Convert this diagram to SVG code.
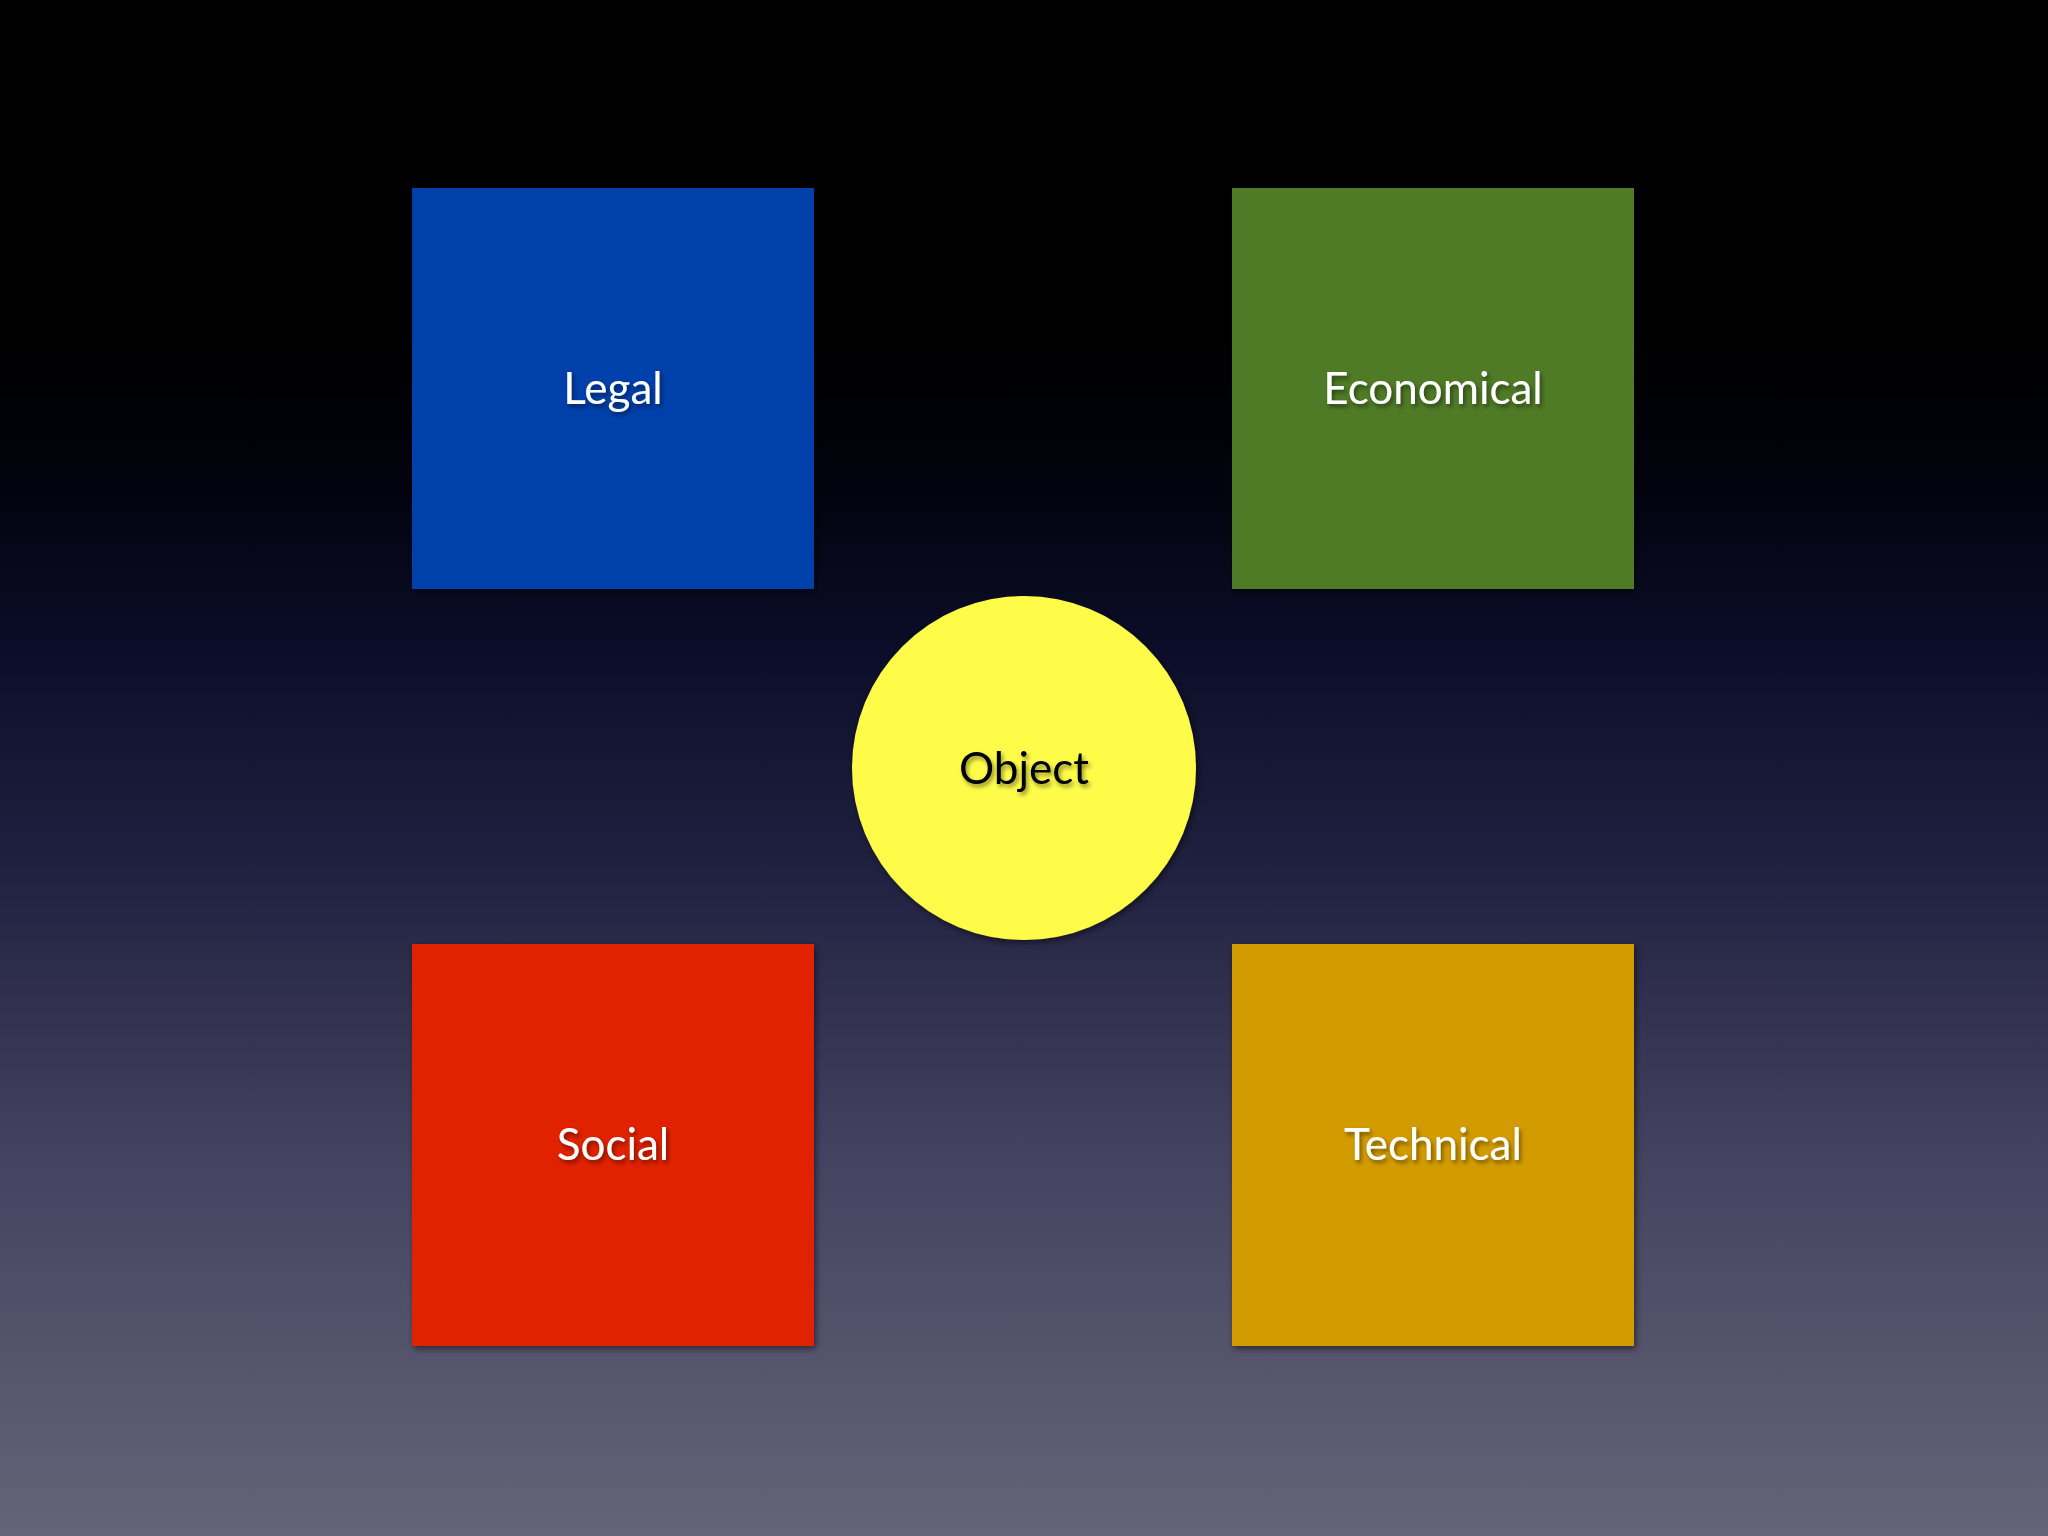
<svg xmlns="http://www.w3.org/2000/svg" width="2048" height="1536" viewBox="0 0 2048 1536">
<defs>
<linearGradient id="bg" x1="0" y1="0" x2="0" y2="1">
<stop offset="0" stop-color="#000000"/>
<stop offset="0.22" stop-color="#000000"/>
<stop offset="0.32" stop-color="#02030e"/>
<stop offset="0.42" stop-color="#0b0d28"/>
<stop offset="0.56" stop-color="#1f203f"/>
<stop offset="0.75" stop-color="#434360"/>
<stop offset="1" stop-color="#656377"/>
</linearGradient>
<filter id="boxShadow" x="-10%" y="-10%" width="120%" height="120%">
<feDropShadow dx="2" dy="3" stdDeviation="3" flood-color="#000" flood-opacity="0.5"/>
</filter>
<filter id="textShadow" x="-20%" y="-30%" width="140%" height="160%">
<feDropShadow dx="2" dy="3" stdDeviation="2" flood-color="#000" flood-opacity="0.45"/>
</filter>
</defs>
<style>
.lbl{font-family:Lato,"Open Sans","Liberation Sans",sans-serif;font-size:44px;text-anchor:middle;filter:url(#textShadow)}
.w{fill:#ffffff}
.k{fill:#000000}
</style>
<rect width="2048" height="1536" fill="url(#bg)"/>
<g id="connectors"/>
<g id="legal">
<rect x="412" y="188" width="402" height="401" fill="#0041aa" filter="url(#boxShadow)"/>
<text class="lbl w" x="613" y="404">Legal</text>
</g>
<g id="economical">
<rect x="1232" y="188" width="402" height="401" fill="#4f7a28" filter="url(#boxShadow)"/>
<text class="lbl w" x="1433" y="404">Economical</text>
</g>
<g id="social">
<rect x="412" y="944" width="402" height="402" fill="#e02400" filter="url(#boxShadow)"/>
<text class="lbl w" x="613" y="1160">Social</text>
</g>
<g id="technical">
<rect x="1232" y="944" width="402" height="402" fill="#d29b02" filter="url(#boxShadow)"/>
<text class="lbl w" x="1433" y="1160">Technical</text>
</g>
<g id="object">
<circle cx="1024" cy="768" r="172" fill="#fefc4a" filter="url(#boxShadow)"/>
<text class="lbl k" x="1024" y="784">Object</text>
</g>
</svg>
